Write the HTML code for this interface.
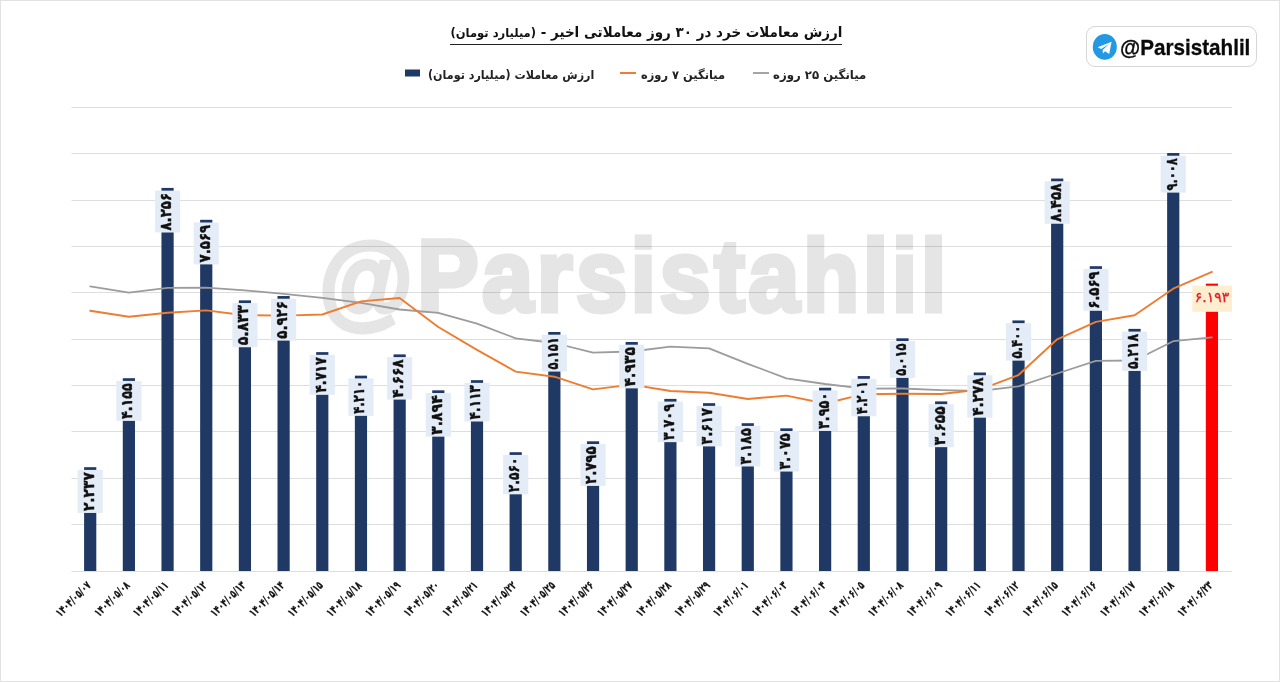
<!DOCTYPE html>
<html lang="fa"><head><meta charset="utf-8"><title>ارزش معاملات خرد</title>
<style>
html,body{margin:0;padding:0;background:#fff;}
body{width:1280px;height:682px;position:relative;overflow:hidden;font-family:"DejaVu Sans",sans-serif;}
#frame{position:absolute;left:0;top:0;width:1278px;height:680px;border:1px solid #e2e2e2;}
svg{position:absolute;left:0;top:0;}
.t{font-family:"DejaVu Sans",sans-serif;font-weight:bold;fill:#111;}
#title{position:absolute;top:21px;left:450px;width:392px;height:23.5px;direction:rtl;white-space:nowrap;font-weight:bold;color:#111;border-bottom:1px solid #222;box-sizing:border-box;}
#title .in{display:inline-block;transform-origin:right center;transform:scaleX(0.930);font-size:14.5px;line-height:22px;}
#title .sm{font-size:12.4px;}
.lg{position:absolute;top:66px;height:18px;line-height:18px;font-size:12.2px;font-weight:bold;color:#222;white-space:nowrap;direction:rtl;}
.lg span{display:inline-block;transform-origin:left center;}
#badge{position:absolute;left:1086px;top:26px;width:171px;height:41px;border:1px solid #d6d6d6;border-radius:9px;box-sizing:border-box;}
#badge .nm{position:absolute;left:33.3px;top:7.5px;transform:scaleX(0.918);-webkit-text-stroke:0.3px #0a0a0a;font-family:"Liberation Sans",sans-serif;font-weight:bold;font-size:22.5px;line-height:26px;color:#0a0a0a;transform-origin:left center;white-space:nowrap;}
#wm .at{display:inline-block;transform-origin:right center;transform:translate(-1px,4.5px) scale(1.04,1.02);}
#wm{position:absolute;left:323.7px;top:216.2px;font-family:"Liberation Sans",sans-serif;font-weight:bold;font-size:102px;line-height:120px;letter-spacing:3.85px;color:#e5e5e5;-webkit-text-stroke:4.8px #e5e5e5;paint-order:stroke fill;white-space:nowrap;transform-origin:left center;transform:scaleX(0.902);}
</style></head><body>
<div id="frame"></div>
<div id="wm"><span class="at">@</span>Parsistahlil</div>

<svg width="1280" height="682" viewBox="0 0 1280 682">
<rect x="71.5" y="571" width="1160.5" height="1" fill="#000" fill-opacity="0.13"/>
<rect x="71.5" y="524" width="1160.5" height="1" fill="#000" fill-opacity="0.13"/>
<rect x="71.5" y="478" width="1160.5" height="1" fill="#000" fill-opacity="0.13"/>
<rect x="71.5" y="431" width="1160.5" height="1" fill="#000" fill-opacity="0.13"/>
<rect x="71.5" y="385" width="1160.5" height="1" fill="#000" fill-opacity="0.13"/>
<rect x="71.5" y="339" width="1160.5" height="1" fill="#000" fill-opacity="0.13"/>
<rect x="71.5" y="292" width="1160.5" height="1" fill="#000" fill-opacity="0.13"/>
<rect x="71.5" y="246" width="1160.5" height="1" fill="#000" fill-opacity="0.13"/>
<rect x="71.5" y="200" width="1160.5" height="1" fill="#000" fill-opacity="0.13"/>
<rect x="71.5" y="153" width="1160.5" height="1" fill="#000" fill-opacity="0.13"/>
<rect x="71.5" y="107" width="1160.5" height="1" fill="#000" fill-opacity="0.13"/>
<rect x="84.10" y="467.20" width="12.2" height="103.80" fill="#1f3864"/>
<rect x="122.78" y="378.21" width="12.2" height="192.79" fill="#1f3864"/>
<rect x="161.46" y="187.92" width="12.2" height="383.08" fill="#1f3864"/>
<rect x="200.14" y="219.80" width="12.2" height="351.20" fill="#1f3864"/>
<rect x="238.82" y="300.35" width="12.2" height="270.65" fill="#1f3864"/>
<rect x="277.50" y="296.03" width="12.2" height="274.97" fill="#1f3864"/>
<rect x="316.18" y="352.13" width="12.2" height="218.87" fill="#1f3864"/>
<rect x="354.86" y="375.66" width="12.2" height="195.34" fill="#1f3864"/>
<rect x="393.54" y="354.40" width="12.2" height="216.60" fill="#1f3864"/>
<rect x="432.22" y="390.32" width="12.2" height="180.68" fill="#1f3864"/>
<rect x="470.90" y="380.16" width="12.2" height="190.84" fill="#1f3864"/>
<rect x="509.58" y="452.22" width="12.2" height="118.78" fill="#1f3864"/>
<rect x="548.26" y="331.99" width="12.2" height="239.01" fill="#1f3864"/>
<rect x="586.94" y="441.31" width="12.2" height="129.69" fill="#1f3864"/>
<rect x="625.62" y="342.02" width="12.2" height="228.98" fill="#1f3864"/>
<rect x="664.30" y="398.90" width="12.2" height="172.10" fill="#1f3864"/>
<rect x="702.98" y="403.17" width="12.2" height="167.83" fill="#1f3864"/>
<rect x="741.66" y="423.22" width="12.2" height="147.78" fill="#1f3864"/>
<rect x="780.34" y="428.32" width="12.2" height="142.68" fill="#1f3864"/>
<rect x="819.02" y="387.72" width="12.2" height="183.28" fill="#1f3864"/>
<rect x="857.70" y="376.07" width="12.2" height="194.93" fill="#1f3864"/>
<rect x="896.38" y="338.30" width="12.2" height="232.70" fill="#1f3864"/>
<rect x="935.06" y="401.41" width="12.2" height="169.59" fill="#1f3864"/>
<rect x="973.74" y="372.50" width="12.2" height="198.50" fill="#1f3864"/>
<rect x="1012.42" y="320.44" width="12.2" height="250.56" fill="#1f3864"/>
<rect x="1051.10" y="178.55" width="12.2" height="392.45" fill="#1f3864"/>
<rect x="1089.78" y="266.20" width="12.2" height="304.80" fill="#1f3864"/>
<rect x="1128.46" y="328.88" width="12.2" height="242.12" fill="#1f3864"/>
<rect x="1167.14" y="153.03" width="12.2" height="417.97" fill="#1f3864"/>
<rect x="1205.82" y="283.64" width="12.2" height="287.36" fill="#ff0000"/>
<path d="M90.2,286.4 L128.9,292.6 L167.6,287.9 L206.2,287.6 L244.9,290.4 L283.6,293.8 L322.3,297.8 L361.0,302.8 L399.6,309.5 L438.3,312.8 L477.0,323.6 L515.7,338.3 L554.4,343.0 L593.0,352.6 L631.7,351.5 L670.4,346.7 L709.1,348.4 L747.8,363.8 L786.4,378.3 L825.1,384.0 L863.8,388.7 L902.5,388.5 L941.2,390.1 L979.8,391.0 L1018.5,386.3 L1057.2,373.5 L1095.9,360.9 L1134.6,360.5 L1173.2,341.2 L1211.9,337.4" fill="none" stroke="#9c9c9c" stroke-width="1.8" stroke-linejoin="round" stroke-linecap="round"/>
<path d="M90.2,310.8 L128.9,316.7 L167.6,312.8 L206.2,310.4 L244.9,315.2 L283.6,315.6 L322.3,314.5 L361.0,301.4 L399.6,298.0 L438.3,327.0 L477.0,349.9 L515.7,371.6 L554.4,376.7 L593.0,389.4 L631.7,384.6 L670.4,391.0 L709.1,392.8 L747.8,399.0 L786.4,395.6 L825.1,403.5 L863.8,394.2 L902.5,393.7 L941.2,394.0 L979.8,389.6 L1018.5,375.0 L1057.2,339.3 L1095.9,321.9 L1134.6,315.2 L1173.2,288.7 L1211.9,271.9" fill="none" stroke="#ed7d31" stroke-width="1.9" stroke-linejoin="round" stroke-linecap="round"/>
<rect x="77.60" y="469.90" width="25.2" height="43.05" fill="#e4edf7"/>
<text class="t" font-size="15.5" stroke="#111" stroke-width="0.45" text-anchor="middle" direction="ltr" transform="translate(93.60,491.63) rotate(-90)" textLength="38.8" lengthAdjust="spacingAndGlyphs">۲.۲۳۷</text>
<rect x="116.28" y="380.91" width="25.2" height="40.00" fill="#e4edf7"/>
<text class="t" font-size="15.5" stroke="#111" stroke-width="0.45" text-anchor="middle" direction="ltr" transform="translate(132.28,401.11) rotate(-90)" textLength="35.6" lengthAdjust="spacingAndGlyphs">۴.۱۵۵</text>
<rect x="154.96" y="190.62" width="25.2" height="41.90" fill="#e4edf7"/>
<text class="t" font-size="15.5" stroke="#111" stroke-width="0.45" text-anchor="middle" direction="ltr" transform="translate(170.96,211.77) rotate(-90)" textLength="37.6" lengthAdjust="spacingAndGlyphs">۸.۲۵۶</text>
<rect x="193.64" y="222.50" width="25.2" height="41.90" fill="#e4edf7"/>
<text class="t" font-size="15.5" stroke="#111" stroke-width="0.45" text-anchor="middle" direction="ltr" transform="translate(209.64,243.65) rotate(-90)" textLength="37.6" lengthAdjust="spacingAndGlyphs">۷.۵۶۹</text>
<rect x="232.32" y="303.05" width="25.2" height="44.20" fill="#e4edf7"/>
<text class="t" font-size="15.5" stroke="#111" stroke-width="0.45" text-anchor="middle" direction="ltr" transform="translate(248.32,325.35) rotate(-90)" textLength="40.0" lengthAdjust="spacingAndGlyphs">۵.۸۳۳</text>
<rect x="271.00" y="298.73" width="25.2" height="41.90" fill="#e4edf7"/>
<text class="t" font-size="15.5" stroke="#111" stroke-width="0.45" text-anchor="middle" direction="ltr" transform="translate(287.00,319.88) rotate(-90)" textLength="37.6" lengthAdjust="spacingAndGlyphs">۵.۹۲۶</text>
<rect x="309.68" y="354.83" width="25.2" height="40.00" fill="#e4edf7"/>
<text class="t" font-size="15.5" stroke="#111" stroke-width="0.45" text-anchor="middle" direction="ltr" transform="translate(325.68,375.03) rotate(-90)" textLength="35.6" lengthAdjust="spacingAndGlyphs">۴.۷۱۷</text>
<rect x="348.36" y="378.36" width="25.2" height="37.50" fill="#e4edf7"/>
<text class="t" font-size="15.5" stroke="#111" stroke-width="0.45" text-anchor="middle" direction="ltr" transform="translate(364.36,397.31) rotate(-90)" textLength="33.0" lengthAdjust="spacingAndGlyphs">۴.۲۱۰</text>
<rect x="387.04" y="357.10" width="25.2" height="42.50" fill="#e4edf7"/>
<text class="t" font-size="15.5" stroke="#111" stroke-width="0.45" text-anchor="middle" direction="ltr" transform="translate(403.04,378.55) rotate(-90)" textLength="38.3" lengthAdjust="spacingAndGlyphs">۴.۶۶۸</text>
<rect x="425.72" y="393.02" width="25.2" height="43.65" fill="#e4edf7"/>
<text class="t" font-size="15.5" stroke="#111" stroke-width="0.45" text-anchor="middle" direction="ltr" transform="translate(441.72,415.04) rotate(-90)" textLength="39.5" lengthAdjust="spacingAndGlyphs">۳.۸۹۴</text>
<rect x="464.40" y="382.86" width="25.2" height="38.65" fill="#e4edf7"/>
<text class="t" font-size="15.5" stroke="#111" stroke-width="0.45" text-anchor="middle" direction="ltr" transform="translate(480.40,402.38) rotate(-90)" textLength="34.2" lengthAdjust="spacingAndGlyphs">۴.۱۱۳</text>
<rect x="503.08" y="454.92" width="25.2" height="39.40" fill="#e4edf7"/>
<text class="t" font-size="15.5" stroke="#111" stroke-width="0.45" text-anchor="middle" direction="ltr" transform="translate(519.08,474.82) rotate(-90)" textLength="35.0" lengthAdjust="spacingAndGlyphs">۲.۵۶۰</text>
<rect x="541.76" y="334.69" width="25.2" height="36.90" fill="#e4edf7"/>
<text class="t" font-size="15.5" stroke="#111" stroke-width="0.45" text-anchor="middle" direction="ltr" transform="translate(557.76,353.34) rotate(-90)" textLength="32.4" lengthAdjust="spacingAndGlyphs">۵.۱۵۱</text>
<rect x="580.44" y="444.01" width="25.2" height="41.90" fill="#e4edf7"/>
<text class="t" font-size="15.5" stroke="#111" stroke-width="0.45" text-anchor="middle" direction="ltr" transform="translate(596.44,465.16) rotate(-90)" textLength="37.6" lengthAdjust="spacingAndGlyphs">۲.۷۹۵</text>
<rect x="619.12" y="344.72" width="25.2" height="43.65" fill="#e4edf7"/>
<text class="t" font-size="15.5" stroke="#111" stroke-width="0.45" text-anchor="middle" direction="ltr" transform="translate(635.12,366.74) rotate(-90)" textLength="39.5" lengthAdjust="spacingAndGlyphs">۴.۹۳۵</text>
<rect x="657.80" y="401.60" width="25.2" height="40.55" fill="#e4edf7"/>
<text class="t" font-size="15.5" stroke="#111" stroke-width="0.45" text-anchor="middle" direction="ltr" transform="translate(673.80,422.08) rotate(-90)" textLength="36.2" lengthAdjust="spacingAndGlyphs">۳.۷۰۹</text>
<rect x="696.48" y="405.87" width="25.2" height="40.55" fill="#e4edf7"/>
<text class="t" font-size="15.5" stroke="#111" stroke-width="0.45" text-anchor="middle" direction="ltr" transform="translate(712.48,426.35) rotate(-90)" textLength="36.2" lengthAdjust="spacingAndGlyphs">۳.۶۱۷</text>
<rect x="735.16" y="425.92" width="25.2" height="40.55" fill="#e4edf7"/>
<text class="t" font-size="15.5" stroke="#111" stroke-width="0.45" text-anchor="middle" direction="ltr" transform="translate(751.16,446.39) rotate(-90)" textLength="36.2" lengthAdjust="spacingAndGlyphs">۳.۱۸۵</text>
<rect x="773.84" y="431.02" width="25.2" height="40.55" fill="#e4edf7"/>
<text class="t" font-size="15.5" stroke="#111" stroke-width="0.45" text-anchor="middle" direction="ltr" transform="translate(789.84,451.49) rotate(-90)" textLength="36.2" lengthAdjust="spacingAndGlyphs">۳.۰۷۵</text>
<rect x="812.52" y="390.42" width="25.2" height="40.55" fill="#e4edf7"/>
<text class="t" font-size="15.5" stroke="#111" stroke-width="0.45" text-anchor="middle" direction="ltr" transform="translate(828.52,410.89) rotate(-90)" textLength="36.2" lengthAdjust="spacingAndGlyphs">۳.۹۵۰</text>
<rect x="851.20" y="378.77" width="25.2" height="37.50" fill="#e4edf7"/>
<text class="t" font-size="15.5" stroke="#111" stroke-width="0.45" text-anchor="middle" direction="ltr" transform="translate(867.20,397.72) rotate(-90)" textLength="33.0" lengthAdjust="spacingAndGlyphs">۴.۲۰۱</text>
<rect x="889.88" y="341.00" width="25.2" height="36.90" fill="#e4edf7"/>
<text class="t" font-size="15.5" stroke="#111" stroke-width="0.45" text-anchor="middle" direction="ltr" transform="translate(905.88,359.65) rotate(-90)" textLength="32.4" lengthAdjust="spacingAndGlyphs">۵.۰۱۵</text>
<rect x="928.56" y="404.11" width="25.2" height="43.05" fill="#e4edf7"/>
<text class="t" font-size="15.5" stroke="#111" stroke-width="0.45" text-anchor="middle" direction="ltr" transform="translate(944.56,425.83) rotate(-90)" textLength="38.8" lengthAdjust="spacingAndGlyphs">۳.۶۵۵</text>
<rect x="967.24" y="375.20" width="25.2" height="42.50" fill="#e4edf7"/>
<text class="t" font-size="15.5" stroke="#111" stroke-width="0.45" text-anchor="middle" direction="ltr" transform="translate(983.24,396.65) rotate(-90)" textLength="38.3" lengthAdjust="spacingAndGlyphs">۴.۲۷۸</text>
<rect x="1005.92" y="323.14" width="25.2" height="37.50" fill="#e4edf7"/>
<text class="t" font-size="15.5" stroke="#111" stroke-width="0.45" text-anchor="middle" direction="ltr" transform="translate(1021.92,342.09) rotate(-90)" textLength="33.0" lengthAdjust="spacingAndGlyphs">۵.۴۰۰</text>
<rect x="1044.60" y="181.25" width="25.2" height="42.50" fill="#e4edf7"/>
<text class="t" font-size="15.5" stroke="#111" stroke-width="0.45" text-anchor="middle" direction="ltr" transform="translate(1060.60,202.70) rotate(-90)" textLength="38.3" lengthAdjust="spacingAndGlyphs">۸.۴۵۸</text>
<rect x="1083.28" y="268.90" width="25.2" height="41.90" fill="#e4edf7"/>
<text class="t" font-size="15.5" stroke="#111" stroke-width="0.45" text-anchor="middle" direction="ltr" transform="translate(1099.28,290.05) rotate(-90)" textLength="37.6" lengthAdjust="spacingAndGlyphs">۶.۵۶۹</text>
<rect x="1121.96" y="331.58" width="25.2" height="39.40" fill="#e4edf7"/>
<text class="t" font-size="15.5" stroke="#111" stroke-width="0.45" text-anchor="middle" direction="ltr" transform="translate(1137.96,351.48) rotate(-90)" textLength="35.0" lengthAdjust="spacingAndGlyphs">۵.۲۱۸</text>
<rect x="1160.64" y="155.73" width="25.2" height="36.90" fill="#e4edf7"/>
<text class="t" font-size="15.5" stroke="#111" stroke-width="0.45" text-anchor="middle" direction="ltr" transform="translate(1176.64,174.38) rotate(-90)" textLength="32.4" lengthAdjust="spacingAndGlyphs">۹.۰۰۸</text>
<rect x="1192.3" y="285.7" width="39.7" height="26.1" fill="#fdeed0"/>
<text font-family='"DejaVu Sans", sans-serif' font-size="14" fill="#e3202a" text-anchor="middle" direction="ltr" x="1212" y="301.6" stroke="#e3202a" stroke-width="0.35" textLength="34.5" lengthAdjust="spacingAndGlyphs">۶.۱۹۳</text>
<text class="t" font-size="11.5" stroke="#111" stroke-width="0.25" text-anchor="end" direction="ltr" transform="translate(91.70,586.00) rotate(-45)" textLength="44.5" lengthAdjust="spacingAndGlyphs">۱۴۰۴/۰۵/۰۷</text>
<text class="t" font-size="11.5" stroke="#111" stroke-width="0.25" text-anchor="end" direction="ltr" transform="translate(130.38,586.00) rotate(-45)" textLength="44.5" lengthAdjust="spacingAndGlyphs">۱۴۰۴/۰۵/۰۸</text>
<text class="t" font-size="11.5" stroke="#111" stroke-width="0.25" text-anchor="end" direction="ltr" transform="translate(169.06,586.00) rotate(-45)" textLength="44.5" lengthAdjust="spacingAndGlyphs">۱۴۰۴/۰۵/۱۱</text>
<text class="t" font-size="11.5" stroke="#111" stroke-width="0.25" text-anchor="end" direction="ltr" transform="translate(207.74,586.00) rotate(-45)" textLength="44.5" lengthAdjust="spacingAndGlyphs">۱۴۰۴/۰۵/۱۲</text>
<text class="t" font-size="11.5" stroke="#111" stroke-width="0.25" text-anchor="end" direction="ltr" transform="translate(246.42,586.00) rotate(-45)" textLength="44.5" lengthAdjust="spacingAndGlyphs">۱۴۰۴/۰۵/۱۳</text>
<text class="t" font-size="11.5" stroke="#111" stroke-width="0.25" text-anchor="end" direction="ltr" transform="translate(285.10,586.00) rotate(-45)" textLength="44.5" lengthAdjust="spacingAndGlyphs">۱۴۰۴/۰۵/۱۴</text>
<text class="t" font-size="11.5" stroke="#111" stroke-width="0.25" text-anchor="end" direction="ltr" transform="translate(323.78,586.00) rotate(-45)" textLength="44.5" lengthAdjust="spacingAndGlyphs">۱۴۰۴/۰۵/۱۵</text>
<text class="t" font-size="11.5" stroke="#111" stroke-width="0.25" text-anchor="end" direction="ltr" transform="translate(362.46,586.00) rotate(-45)" textLength="44.5" lengthAdjust="spacingAndGlyphs">۱۴۰۴/۰۵/۱۸</text>
<text class="t" font-size="11.5" stroke="#111" stroke-width="0.25" text-anchor="end" direction="ltr" transform="translate(401.14,586.00) rotate(-45)" textLength="44.5" lengthAdjust="spacingAndGlyphs">۱۴۰۴/۰۵/۱۹</text>
<text class="t" font-size="11.5" stroke="#111" stroke-width="0.25" text-anchor="end" direction="ltr" transform="translate(439.82,586.00) rotate(-45)" textLength="44.5" lengthAdjust="spacingAndGlyphs">۱۴۰۴/۰۵/۲۰</text>
<text class="t" font-size="11.5" stroke="#111" stroke-width="0.25" text-anchor="end" direction="ltr" transform="translate(478.50,586.00) rotate(-45)" textLength="44.5" lengthAdjust="spacingAndGlyphs">۱۴۰۴/۰۵/۲۱</text>
<text class="t" font-size="11.5" stroke="#111" stroke-width="0.25" text-anchor="end" direction="ltr" transform="translate(517.18,586.00) rotate(-45)" textLength="44.5" lengthAdjust="spacingAndGlyphs">۱۴۰۴/۰۵/۲۲</text>
<text class="t" font-size="11.5" stroke="#111" stroke-width="0.25" text-anchor="end" direction="ltr" transform="translate(555.86,586.00) rotate(-45)" textLength="44.5" lengthAdjust="spacingAndGlyphs">۱۴۰۴/۰۵/۲۵</text>
<text class="t" font-size="11.5" stroke="#111" stroke-width="0.25" text-anchor="end" direction="ltr" transform="translate(594.54,586.00) rotate(-45)" textLength="44.5" lengthAdjust="spacingAndGlyphs">۱۴۰۴/۰۵/۲۶</text>
<text class="t" font-size="11.5" stroke="#111" stroke-width="0.25" text-anchor="end" direction="ltr" transform="translate(633.22,586.00) rotate(-45)" textLength="44.5" lengthAdjust="spacingAndGlyphs">۱۴۰۴/۰۵/۲۷</text>
<text class="t" font-size="11.5" stroke="#111" stroke-width="0.25" text-anchor="end" direction="ltr" transform="translate(671.90,586.00) rotate(-45)" textLength="44.5" lengthAdjust="spacingAndGlyphs">۱۴۰۴/۰۵/۲۸</text>
<text class="t" font-size="11.5" stroke="#111" stroke-width="0.25" text-anchor="end" direction="ltr" transform="translate(710.58,586.00) rotate(-45)" textLength="44.5" lengthAdjust="spacingAndGlyphs">۱۴۰۴/۰۵/۲۹</text>
<text class="t" font-size="11.5" stroke="#111" stroke-width="0.25" text-anchor="end" direction="ltr" transform="translate(749.26,586.00) rotate(-45)" textLength="44.5" lengthAdjust="spacingAndGlyphs">۱۴۰۴/۰۶/۰۱</text>
<text class="t" font-size="11.5" stroke="#111" stroke-width="0.25" text-anchor="end" direction="ltr" transform="translate(787.94,586.00) rotate(-45)" textLength="44.5" lengthAdjust="spacingAndGlyphs">۱۴۰۴/۰۶/۰۳</text>
<text class="t" font-size="11.5" stroke="#111" stroke-width="0.25" text-anchor="end" direction="ltr" transform="translate(826.62,586.00) rotate(-45)" textLength="44.5" lengthAdjust="spacingAndGlyphs">۱۴۰۴/۰۶/۰۴</text>
<text class="t" font-size="11.5" stroke="#111" stroke-width="0.25" text-anchor="end" direction="ltr" transform="translate(865.30,586.00) rotate(-45)" textLength="44.5" lengthAdjust="spacingAndGlyphs">۱۴۰۴/۰۶/۰۵</text>
<text class="t" font-size="11.5" stroke="#111" stroke-width="0.25" text-anchor="end" direction="ltr" transform="translate(903.98,586.00) rotate(-45)" textLength="44.5" lengthAdjust="spacingAndGlyphs">۱۴۰۴/۰۶/۰۸</text>
<text class="t" font-size="11.5" stroke="#111" stroke-width="0.25" text-anchor="end" direction="ltr" transform="translate(942.66,586.00) rotate(-45)" textLength="44.5" lengthAdjust="spacingAndGlyphs">۱۴۰۴/۰۶/۰۹</text>
<text class="t" font-size="11.5" stroke="#111" stroke-width="0.25" text-anchor="end" direction="ltr" transform="translate(981.34,586.00) rotate(-45)" textLength="44.5" lengthAdjust="spacingAndGlyphs">۱۴۰۴/۰۶/۱۱</text>
<text class="t" font-size="11.5" stroke="#111" stroke-width="0.25" text-anchor="end" direction="ltr" transform="translate(1020.02,586.00) rotate(-45)" textLength="44.5" lengthAdjust="spacingAndGlyphs">۱۴۰۴/۰۶/۱۲</text>
<text class="t" font-size="11.5" stroke="#111" stroke-width="0.25" text-anchor="end" direction="ltr" transform="translate(1058.70,586.00) rotate(-45)" textLength="44.5" lengthAdjust="spacingAndGlyphs">۱۴۰۴/۰۶/۱۵</text>
<text class="t" font-size="11.5" stroke="#111" stroke-width="0.25" text-anchor="end" direction="ltr" transform="translate(1097.38,586.00) rotate(-45)" textLength="44.5" lengthAdjust="spacingAndGlyphs">۱۴۰۴/۰۶/۱۶</text>
<text class="t" font-size="11.5" stroke="#111" stroke-width="0.25" text-anchor="end" direction="ltr" transform="translate(1136.06,586.00) rotate(-45)" textLength="44.5" lengthAdjust="spacingAndGlyphs">۱۴۰۴/۰۶/۱۷</text>
<text class="t" font-size="11.5" stroke="#111" stroke-width="0.25" text-anchor="end" direction="ltr" transform="translate(1174.74,586.00) rotate(-45)" textLength="44.5" lengthAdjust="spacingAndGlyphs">۱۴۰۴/۰۶/۱۸</text>
<text class="t" font-size="11.5" stroke="#111" stroke-width="0.25" text-anchor="end" direction="ltr" transform="translate(1213.42,586.00) rotate(-45)" textLength="44.5" lengthAdjust="spacingAndGlyphs">۱۴۰۴/۰۶/۲۳</text>
<rect x="405" y="69.5" width="15" height="7" fill="#1f3864"/>
<rect x="620" y="72" width="16" height="2" fill="#ed7d31"/>
<rect x="753" y="72" width="16" height="2" fill="#a5a5a5"/>
<ellipse cx="1104.8" cy="46.9" rx="12" ry="12.9" fill="#2299e2"/>
<path transform="translate(0,0.7)" d="M1097.6,46.6 L1111.6,41.0 L1109.2,53.4 L1105.0,50.6 L1102.9,52.9 L1102.6,49.4 L1109.0,43.4 L1101.2,48.2 Z" fill="#fff"/>
</svg>

<div id="title"><span class="in">ارزش معاملات خرد در ۳۰ روز معاملاتی اخیر - <span class="sm">(میلیارد تومان)</span></span></div>
<div class="lg" id="lg1" style="left:427.5px;"><span style="transform:scaleX(0.914)">ارزش معاملات (میلیارد تومان)</span></div>
<div class="lg" id="lg2" style="left:640.8px;"><span style="transform:scaleX(0.94)">میانگین ۷ روزه</span></div>
<div class="lg" id="lg3" style="left:773.3px;"><span style="transform:scaleX(0.963)">میانگین ۲۵ روزه</span></div>
<div id="badge"><span class="nm">@Parsistahlil</span></div>
</body></html>
